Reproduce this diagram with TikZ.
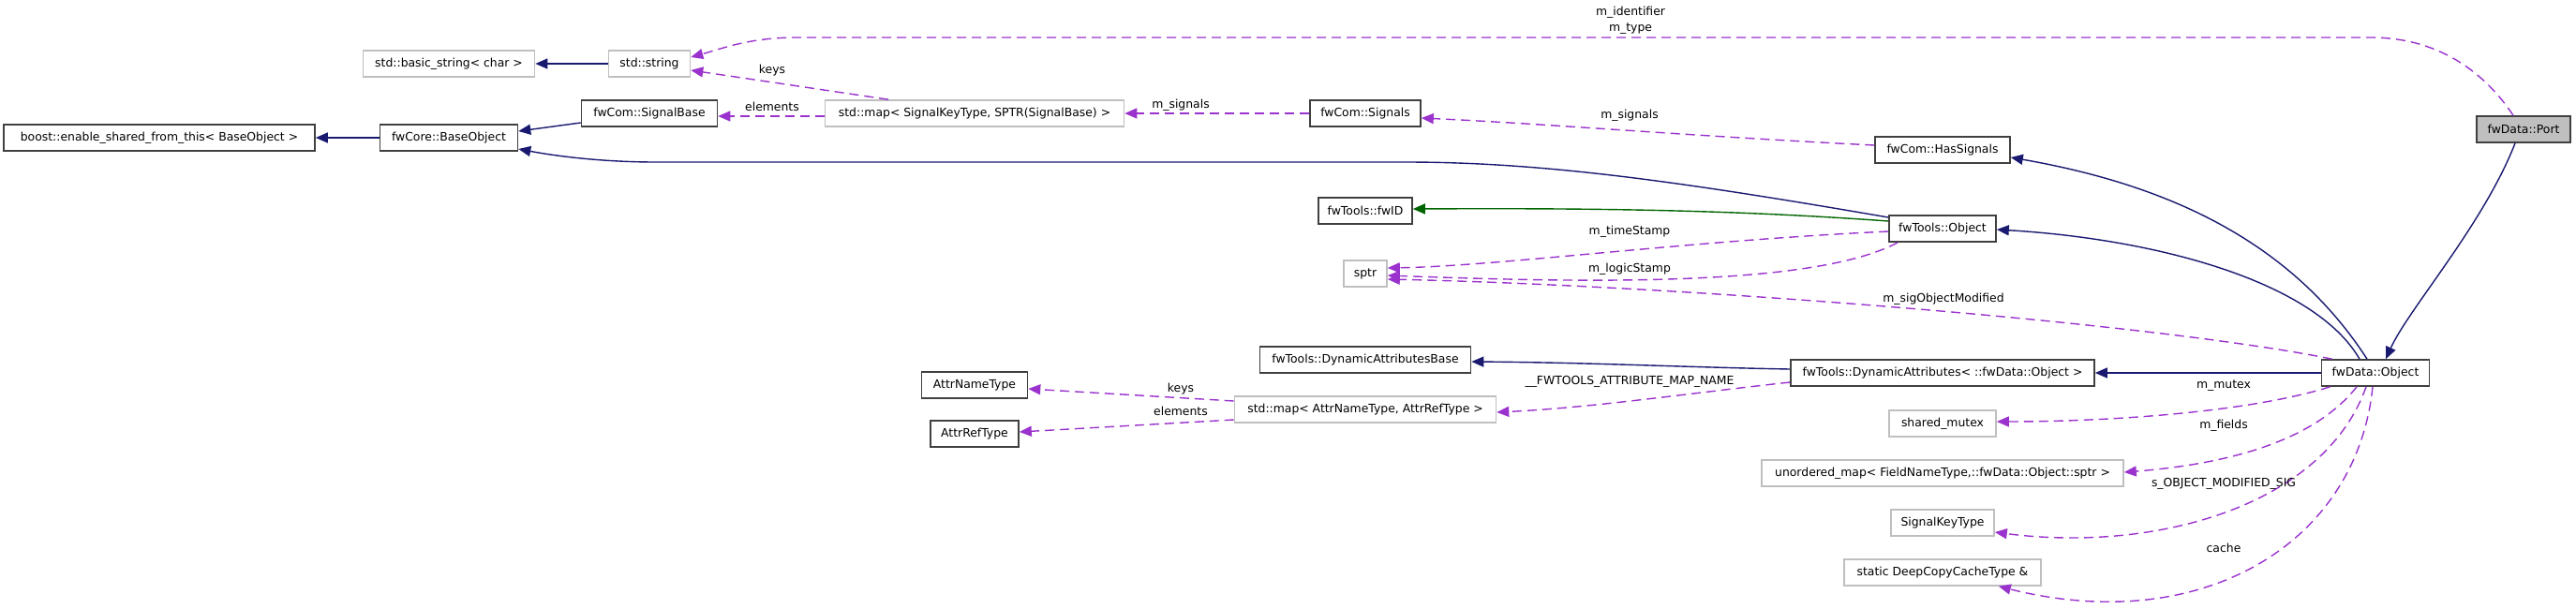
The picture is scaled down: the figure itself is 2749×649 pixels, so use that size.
\documentclass[tikz,border=0pt]{standalone}
\usepackage{fontspec}
\setmainfont{DejaVu Sans}
\usetikzlibrary{arrows.meta,calc}
\definecolor{navy}{HTML}{191970}
\definecolor{orchid}{HTML}{9A32CD}
\definecolor{dgreen}{HTML}{006400}
\definecolor{grayb}{HTML}{BFBFBF}
\definecolor{darkb}{HTML}{404040}
\tikzset{
  box/.style={rectangle, line width=1.6pt, minimum height=28pt, inner sep=0pt, font=\fontsize{12.4}{15}\selectfont, fill=white},
  blk/.style={box, draw=darkb},
  gry/.style={box, draw=grayb},
  lbl/.style={inner sep=0pt, font=\fontsize{12.4}{15}\selectfont},
  tipx/.style={-{Triangle[length=13pt,width=11pt]}},
  inh/.style={tipx, draw=navy, line width=1.4pt},
  prot/.style={tipx, draw=dgreen, line width=1.4pt},
  use/.style={tipx, draw=orchid, line width=1.4pt, dash pattern=on 10pt off 6pt},
}
\begin{document}
\begin{tikzpicture}[x=1pt,y=-1pt]
\useasboundingbox (0,0) rectangle (2749,649);
% nodes
\node[blk, minimum width=332] (boost) at (170,147) {boost::enable\_shared\_from\_this< BaseObject >};
\node[blk, minimum width=147] (baseobj) at (479,147) {fwCore::BaseObject};
\node[gry, minimum width=183] (basicstr) at (479,68) {std::basic\_string< char >};
\node[gry, minimum width=87] (stdstring) at (693,68) {std::string};
\node[blk, minimum width=145] (sigbase) at (693,121) {fwCom::SignalBase};
\node[gry, minimum width=319] (sigmap) at (1040,121) {std::map< SignalKeyType, SPTR(SignalBase) >};
\node[blk, minimum width=118] (signals) at (1457,121) {fwCom::Signals};
\node[blk, minimum width=144] (hassig) at (2073,160) {fwCom::HasSignals};
\node[box, draw=darkb, fill=grayb, minimum width=100] (port) at (2693,138) {fwData::Port};
\node[blk, minimum width=100] (fwid) at (1457,225) {fwTools::fwID};
\node[blk, minimum width=114] (toolsobj) at (2073,244) {fwTools::Object};
\node[gry, minimum width=46] (sptr) at (1457,292) {sptr};
\node[blk, minimum width=225] (dynbase) at (1457,384) {fwTools::DynamicAttributesBase};
\node[blk, minimum width=324] (dynattr) at (2073,398) {fwTools::DynamicAttributes< ::fwData::Object >};
\node[blk, minimum width=115] (dataobj) at (2535,398) {fwData::Object};
\node[blk, minimum width=113] (attrname) at (1040,411) {AttrNameType};
\node[blk, minimum width=94] (attrref) at (1040,463) {AttrRefType};
\node[gry, minimum width=279] (attrmap) at (1457,437) {std::map< AttrNameType, AttrRefType >};
\node[gry, minimum width=114] (mutex) at (2073,452) {shared\_mutex};
\node[gry, minimum width=386] (umap) at (2073,505) {unordered\_map< FieldNameType,::fwData::Object::sptr >};
\node[gry, minimum width=110] (sigkey) at (2073,558) {SignalKeyType};
\node[gry, minimum width=210] (cache) at (2073,611) {static DeepCopyCacheType \&};
% inheritance
\draw[inh] (baseobj.west) -- (boost.east);
\draw[inh] (stdstring.west) -- (basicstr.east);
\draw[inh] ($(sigbase.west)+(0,10)$) -- ($(baseobj.east)+(0,-7)$);
\draw[inh] ($(toolsobj.west)+(0,-12)$) .. controls (1800,195) and (1650,173) .. (1500,173) -- (700,173) .. controls (640,173) and (590,166) .. ($(baseobj.east)+(0,12)$);
\draw[prot] ($(toolsobj.west)+(0,-8)$) .. controls (1850,224) and (1700,222) .. ($(fwid.east)+(0,-2)$);
\draw[inh] ($(dataobj.north)+(-17,0)$) .. controls (2470,300) and (2300,255) .. ($(toolsobj.east)+(0,1)$);
\draw[inh] ($(dataobj.north)+(-9,0)$) .. controls (2440,250) and (2300,195) .. ($(hassig.east)+(0,8)$);
\draw[inh] ($(port.south)+(-9,0)$) .. controls (2650,240) and (2570,330) .. ($(dataobj.north)+(11,0)$);
\draw[inh] (dataobj.west) -- (dynattr.east);
\draw[inh] ($(dynattr.west)+(0,-4)$) .. controls (1800,392) and (1700,387) .. ($(dynbase.east)+(0,2)$);
% usage
\draw[use] ($(port.north)+(-11,0)$) .. controls (2650,75) and (2600,40) .. (2530,40) -- (850,40) .. controls (800,40) and (770,52) .. ($(stdstring.east)+(0,-7)$);
\node[lbl] (lid) at (1740,13) {m\_identifier};
\node[lbl] (ltype) at (1740,31) {m\_type};
\draw[use] ($(sigmap.north)+(-92,0)$) -- ($(stdstring.east)+(0,7)$);
\node[lbl] (lkeys1) at (824,75) {keys};
\draw[use] ($(sigmap.west)+(0,3)$) -- ($(sigbase.east)+(0,3)$);
\node[lbl] (lelem1) at (824,114) {elements};
\draw[use] (signals.west) -- (sigmap.east);
\node[lbl] (lsig1) at (1260,112) {m\_signals};
\draw[use] ($(hassig.west)+(0,-5)$) .. controls (1800,145) and (1650,132) .. ($(signals.east)+(0,5)$);
\node[lbl] (lsig2) at (1739,123) {m\_signals};
\draw[use] ($(toolsobj.west)+(0,3)$) .. controls (1800,257) and (1600,284) .. ($(sptr.east)+(0,-6)$);
\node[lbl] (lts) at (1739,247) {m\_timeStamp};
\draw[use] ($(toolsobj.south west)+(10,0)$) .. controls (1930,310) and (1650,300) .. ($(sptr.east)+(0,2)$);
\node[lbl] (lls) at (1739,287) {m\_logicStamp};
\draw[use] ($(dataobj.north west)+(12,0)$) .. controls (2300,345) and (1800,305) .. ($(sptr.east)+(0,6)$);
\node[lbl] (lsom) at (2074,319) {m\_sigObjectModified};
\draw[use] ($(dynattr.west)+(0,10)$) .. controls (1800,420) and (1700,435) .. ($(attrmap.east)+(0,3)$);
\node[lbl] (lmap) at (1739,407) {\_\_FWTOOLS\_ATTRIBUTE\_MAP\_NAME};
\draw[use] ($(attrmap.west)+(0,-9)$) -- ($(attrname.east)+(0,4)$);
\node[lbl] (lkeys2) at (1260,415) {keys};
\draw[use] ($(attrmap.west)+(0,11)$) -- ($(attrref.east)+(0,-2)$);
\node[lbl] (lelem2) at (1260,439) {elements};
\draw[use] ($(dataobj.south west)+(10,0)$) .. controls (2400,440) and (2250,450) .. ($(mutex.east)+(0,-2)$);
\node[lbl] (lmutex) at (2373,412) {m\_mutex};
\draw[use] ($(dataobj.south)+(-20,0)$) .. controls (2470,470) and (2380,495) .. ($(umap.east)+(0,-1)$);
\node[lbl] (lfields) at (2373,454) {m\_fields};
\draw[use] ($(dataobj.south)+(-10,0)$) .. controls (2480,540) and (2300,590) .. ($(sigkey.east)+(0,10)$);
\node[lbl] (lsig) at (2373,516) {s\_OBJECT\_MODIFIED\_SIG};
\draw[use] ($(dataobj.south)+(-3,0)$) .. controls (2515,580) and (2350,680) .. ($(cache.south east)+(-46,0)$);
\node[lbl] (lcache) at (2373,585) {cache};
\end{tikzpicture}
\end{document}
